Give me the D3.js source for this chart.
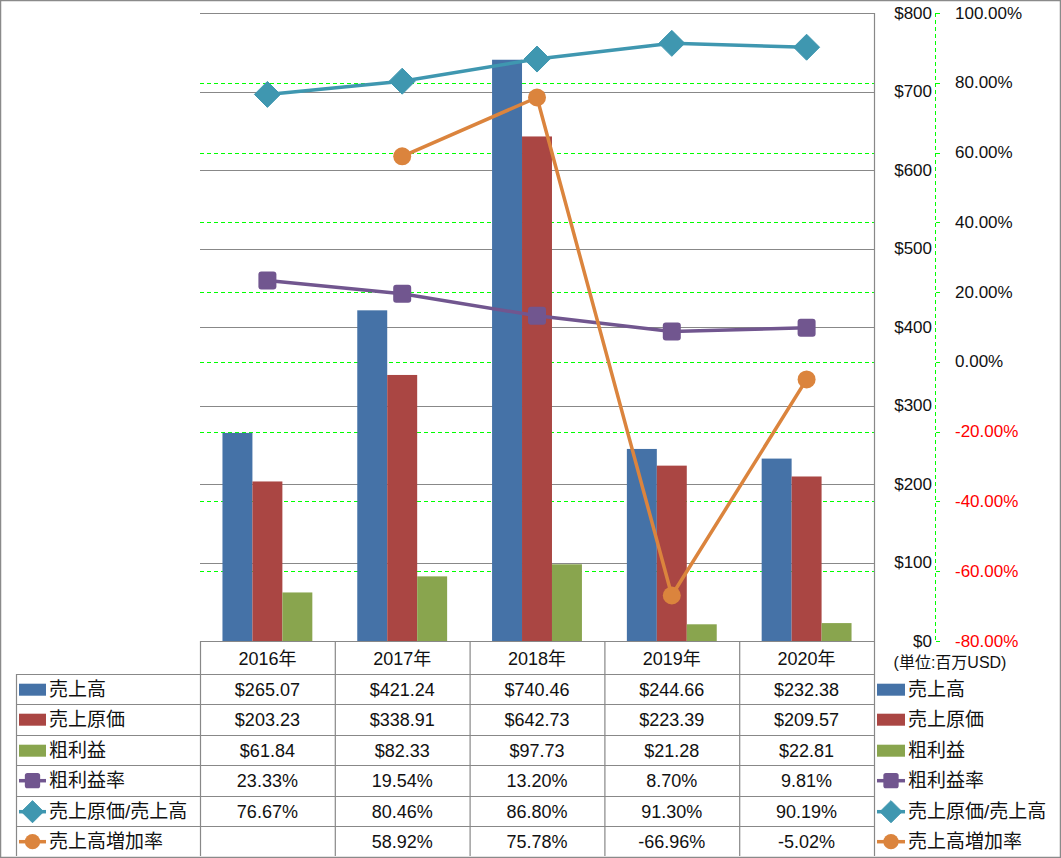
<!DOCTYPE html>
<html><head><meta charset="utf-8">
<script src="https://cdn.jsdelivr.net/npm/d3@7"></script>
<style>
html,body{margin:0;padding:0;background:#fff;}
svg{display:block;font-family:"Liberation Sans","Noto Sans CJK JP",sans-serif;}
</style></head>
<body>
<svg id="chart" width="1061" height="858"></svg>
<script>
// ---- data ----
const categories = ["2016年","2017年","2018年","2019年","2020年"];
const sales      = [265.07, 421.24, 740.46, 244.66, 232.38];   // 売上高
const cost       = [203.23, 338.91, 642.73, 223.39, 209.57];   // 売上原価
const grossProfit= [61.84, 82.33, 97.73, 21.28, 22.81];        // 粗利益
const grossMargin= [23.33, 19.54, 13.20, 8.70, 9.81];          // 粗利益率
const costRatio  = [76.67, 80.46, 86.80, 91.30, 90.19];        // 売上原価/売上高
const salesGrowth= [null, 58.92, 75.78, -66.96, -5.02];        // 売上高増加率
const moneyTicks = [0,100,200,300,400,500,600,700,800];
const pctTicks   = [-80,-60,-40,-20,0,20,40,60,80,100];
const unitLabel  = "(単位:百万USD)";

const barSeries = [
  {name:"売上高", values:sales, color:"#4572A7"},
  {name:"売上原価", values:cost, color:"#AA4643"},
  {name:"粗利益", values:grossProfit, color:"#89A54E"}
];
const lineSeries = [
  {name:"粗利益率", values:grossMargin, color:"#71568F", marker:"square"},
  {name:"売上原価/売上高", values:costRatio, color:"#3F97B0", marker:"diamond"},
  {name:"売上高増加率", values:salesGrowth, color:"#DB843D", marker:"circle"}
];
const tableRows = [
  {series:barSeries[0], fmt:"money"},
  {series:barSeries[1], fmt:"money"},
  {series:barSeries[2], fmt:"money"},
  {series:lineSeries[0], fmt:"pct"},
  {series:lineSeries[1], fmt:"pct"},
  {series:lineSeries[2], fmt:"pct"}
];

// ---- layout ----
const svg = d3.select("#chart");
const plotL = 200, plotR = 874, plotT = 13, plotB = 641;
const gridGray = "#888888", green = "#00FF00";

const x = d3.scaleBand().domain(categories).range([plotL, plotR]).padding(0);
const xi = d3.scaleBand().domain(barSeries.map(s=>s.name)).range([0, x.bandwidth()]).paddingInner(0).paddingOuter(0.75);
const y = d3.scaleLinear().domain([0,800]).range([plotB, plotT]);
const yp = d3.scaleLinear().domain([-80,100]).range([plotB, plotT]);
const fmt2 = v => v.toFixed(2);

// outer border
svg.append("rect").attr("x",0.5).attr("y",0.5).attr("width",1060).attr("height",857)
  .attr("fill","none").attr("stroke","#8a8a8a").attr("stroke-width",1.5);

// green dashed pct gridlines
svg.append("g").attr("shape-rendering","crispEdges").selectAll("line").data(pctTicks.filter(t=>t!==-80)).join("line")
  .attr("x1",plotL).attr("x2",plotR)
  .attr("y1",d=>Math.round(yp(d))+0.5).attr("y2",d=>Math.round(yp(d))+0.5)
  .attr("stroke",green).attr("stroke-width",1).attr("stroke-dasharray","4,3");

// gray money gridlines
svg.append("g").selectAll("line").data(moneyTicks.filter(t=>t!==0)).join("line")
  .attr("x1",plotL).attr("x2",plotR)
  .attr("y1",d=>Math.round(y(d))+0.5).attr("y2",d=>Math.round(y(d))+0.5)
  .attr("stroke",gridGray).attr("stroke-width",1.2);

// plot right border
svg.append("line").attr("x1",plotR+0.5).attr("x2",plotR+0.5).attr("y1",plotT).attr("y2",856)
  .attr("stroke",gridGray).attr("stroke-width",1.2);

// money axis labels
svg.append("g").selectAll("text").data(moneyTicks).join("text")
  .attr("x",932).attr("y",d=>y(d)).attr("text-anchor","end").attr("dominant-baseline","central")
  .attr("font-size",17).attr("fill","#111").text(d=>"$"+d);

// pct axis (green dashed line + ticks + labels)
const axX = 935.5;
svg.append("line").attr("x1",axX).attr("x2",axX).attr("y1",plotT).attr("y2",plotB)
  .attr("shape-rendering","crispEdges")
  .attr("stroke",green).attr("stroke-width",1).attr("stroke-dasharray","4,3");
svg.append("g").attr("shape-rendering","crispEdges").selectAll("line").data(pctTicks).join("line")
  .attr("x1",axX).attr("x2",axX+4).attr("y1",d=>Math.round(yp(d))+0.5).attr("y2",d=>Math.round(yp(d))+0.5)
  .attr("stroke",green).attr("stroke-width",1);
svg.append("g").selectAll("text").data(pctTicks).join("text")
  .attr("x",955).attr("y",d=>yp(d)).attr("dominant-baseline","central")
  .attr("font-size",17).attr("fill",d=>d<0?"#FF0000":"#111").text(d=>fmt2(d)+"%");

// unit label
svg.append("text").attr("x",950).attr("y",662).attr("text-anchor","middle").attr("dominant-baseline","central")
  .attr("font-size",16).attr("fill","#111").text(unitLabel);

// bars
const bg = svg.append("g");
barSeries.forEach(s=>{
  bg.append("g").selectAll("rect").data(categories).join("rect")
    .attr("x",(c)=>x(c)+xi(s.name)).attr("width",xi.bandwidth())
    .attr("y",(c,i)=>y(s.values[i])).attr("height",(c,i)=>plotB - y(s.values[i]))
    .attr("fill",s.color);
});

// markers helper
function drawMarker(g, type, cx, cy, color, scale=1){
  if(type==="square"){
    const s=18*scale;
    g.append("rect").attr("x",cx-s/2).attr("y",cy-s/2).attr("width",s).attr("height",s)
      .attr("rx",3*scale).attr("fill",color);
  } else if(type==="diamond"){
    const r=13*scale;
    g.append("path").attr("d",`M${cx},${cy-r}L${cx+r},${cy}L${cx},${cy+r}L${cx-r},${cy}Z`)
      .attr("fill",color).attr("stroke",color).attr("stroke-width",1).attr("stroke-linejoin","round");
  } else {
    g.append("circle").attr("cx",cx).attr("cy",cy).attr("r",9*scale).attr("fill",color);
  }
}

// lines
const cx = c => x(c) + x.bandwidth()/2;
lineSeries.forEach(s=>{
  const g = svg.append("g");
  const pts = categories.map((c,i)=>({c, v:s.values[i]}));
  const line = d3.line().defined(d=>d.v!=null).x(d=>cx(d.c)).y(d=>yp(d.v));
  g.append("path").attr("d",line(pts)).attr("fill","none").attr("stroke",s.color)
    .attr("stroke-width",3.5).attr("stroke-linejoin","round");
  pts.filter(d=>d.v!=null).forEach(d=>drawMarker(g, s.marker, cx(d.c), yp(d.v), s.color));
});

// ---- data table ----
const rowTop = [674, 704, 735, 765, 796, 826];
const rowBot = 856;
const tbl = svg.append("g").attr("stroke",gridGray).attr("stroke-width",1.2);
tbl.append("line").attr("x1",plotL).attr("x2",plotR).attr("y1",plotB+0.5).attr("y2",plotB+0.5);
rowTop.forEach(yy=>tbl.append("line").attr("x1",16).attr("x2",plotR).attr("y1",yy+0.5).attr("y2",yy+0.5));
categories.forEach(c=>tbl.append("line").attr("x1",x(c)+0.5).attr("x2",x(c)+0.5).attr("y1",plotB).attr("y2",rowBot));
tbl.append("line").attr("x1",16.5).attr("x2",16.5).attr("y1",rowTop[0]).attr("y2",rowBot);

// header
svg.append("g").selectAll("text").data(categories).join("text")
  .attr("x",d=>cx(d)).attr("y",(plotB+rowTop[0])/2+1).attr("text-anchor","middle").attr("dominant-baseline","central")
  .attr("font-size",18).attr("fill","#111").text(d=>d);

const rowH = 30.4;
function legendKey(g, s, x0, x1, yc){
  if(s.marker){
    g.append("line").attr("x1",x0).attr("x2",x1).attr("y1",yc).attr("y2",yc)
      .attr("stroke",s.color).attr("stroke-width",3.5);
    drawMarker(g, s.marker, (x0+x1)/2, yc, s.color, 0.85);
  } else {
    g.append("rect").attr("x",x0).attr("y",yc-6).attr("width",x1-x0).attr("height",12).attr("fill",s.color);
  }
}
tableRows.forEach((r,ri)=>{
  const yc = rowTop[ri] + rowH/2 + 0.5;
  const s = r.series;
  legendKey(svg, s, 19, 46, yc);
  svg.append("text").attr("x",49).attr("y",yc).attr("dominant-baseline","central")
    .attr("font-size",19).attr("fill","#111").text(s.name);
  svg.append("g").selectAll("text").data(categories).join("text")
    .attr("x",d=>cx(d)).attr("y",yc).attr("text-anchor","middle").attr("dominant-baseline","central")
    .attr("font-size",18).attr("fill","#111")
    .text((d,i)=>{const v=s.values[i]; if(v==null) return ""; return r.fmt==="money" ? "$"+fmt2(v) : fmt2(v)+"%";});
  legendKey(svg, s, 877, 905, yc);
  svg.append("text").attr("x",908).attr("y",yc).attr("dominant-baseline","central")
    .attr("font-size",19).attr("fill","#111").text(s.name);
});
</script>
</body></html>
